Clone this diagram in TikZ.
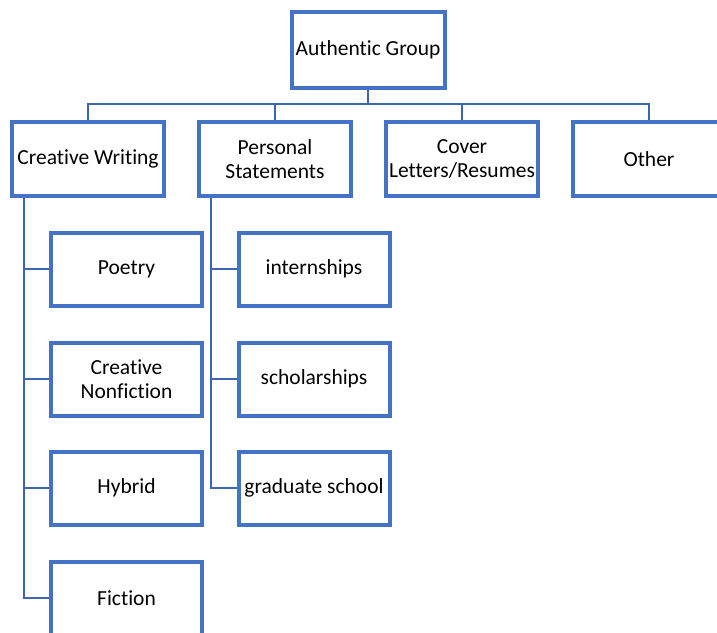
\documentclass[tikz,border=0pt]{standalone}
\usepackage{fontspec}
\setmainfont{Carlito}[Ligatures=CommonOff]
\usepackage{xcolor}
\definecolor{boxblue}{HTML}{4472C4}
\definecolor{linkblue}{HTML}{3D66B2}

\tikzset{
    card/.style={draw=boxblue, line width=4pt, fill=white, align=center,
        minimum width=151pt, minimum height=73pt, inner sep=2pt,
        font=\fontsize{21.5}{24.5}\selectfont},
    link/.style={draw=linkblue, line width=2.5pt}
}

\begin{document}
\begin{tikzpicture}[x=1pt, y=-1pt]
\clip (0,0) rectangle (717,632);
\fill[white] (0,0) rectangle (717,632);
% top of the tree
\node[card, minimum width=153pt, minimum height=76pt] (top) at (368,50) {Authentic Group};
% first row
\node[card, minimum width=152pt, minimum height=74pt] (cw) at (88,159) {Creative Writing};
\node[card, minimum width=152pt, minimum height=74pt] (ps) at (275,159) {Personal\\Statements};
\node[card, minimum width=152pt, minimum height=74pt] (cl) at (462,159) {Cover\\Letters/Resumes};
\node[card, minimum width=152pt, minimum height=74pt] (ot) at (649,159) {Other};
% under creative writing
\node[card] (poetry) at (126.5,269) {Poetry};
\node[card] (nonfic) at (126.5,379) {Creative\\Nonfiction};
\node[card] (hybrid) at (126.5,488) {Hybrid};
\node[card] (fiction) at (126.5,598) {Fiction};
% under personal statements
\node[card] (intern) at (314,269) {internships};
\node[card] (schol) at (314,379) {scholarships};
\node[card] (grad) at (314,488) {graduate school};

\draw[link] (top.south) -- ++(0,14) coordinate (bus);
\foreach \n in {cw,ps,cl,ot}
    \draw[link] (bus) -| (\n.north);
\foreach \n in {poetry,nonfic,hybrid,fiction}
    \draw[link] (cw.south west) ++(14,0) |- (\n.west);
\foreach \n in {intern,schol,grad}
    \draw[link] (ps.south west) ++(14,0) |- (\n.west);
\end{tikzpicture}
\end{document}
